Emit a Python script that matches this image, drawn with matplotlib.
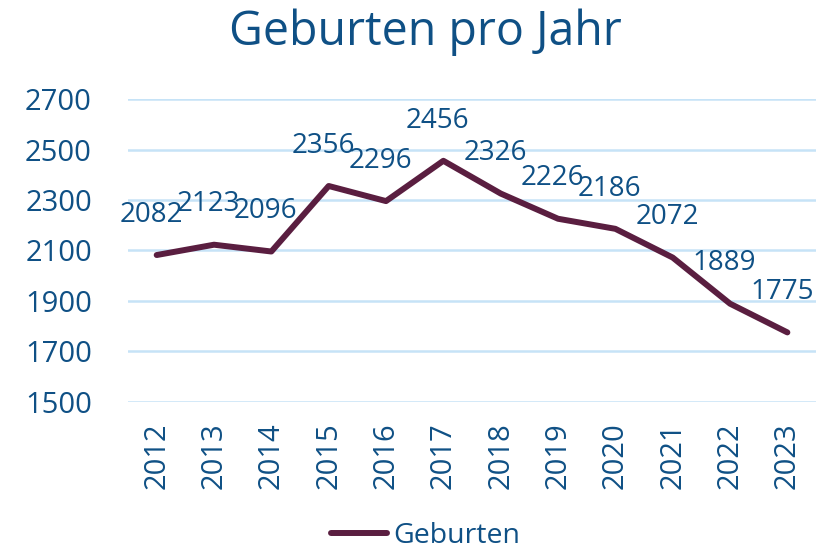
import matplotlib
matplotlib.use("Agg")
import matplotlib.pyplot as plt

# Data
years = ["2012", "2013", "2014", "2015", "2016", "2017",
         "2018", "2019", "2020", "2021", "2022", "2023"]
births = [2082, 2123, 2096, 2356, 2296, 2456, 2326, 2226, 2186, 2072, 1889, 1775]
y_ticks = [1500, 1700, 1900, 2100, 2300, 2500, 2700]

TEXT = "#0F5085"
LINE = "#5A1E40"
GRID = "#C6E3F7"

plt.rcParams["font.family"] = ["Open Sans", "DejaVu Sans"]

fig = plt.figure(figsize=(8.18, 5.55), dpi=100)
ax = fig.add_axes([0.1565, 0.2762, 0.8411, 0.5449])

x = list(range(len(years)))
ax.plot(x, births, color=LINE, linewidth=4.3, solid_capstyle="round",
        solid_joinstyle="round", label="Geburten", zorder=3)

# data labels above points
for xi, v in zip(x, births):
    ax.annotate(str(v), (xi, v), xytext=(-4, 29), textcoords="offset points",
                ha="center", va="center", fontsize=20, color=TEXT, zorder=4)

ax.set_xlim(-0.5, len(years) - 0.5)
ax.set_ylim(1500, 2700)
ax.set_yticks(y_ticks)
ax.set_xticks(x)
ax.set_xticklabels(years, rotation=90)
ax.tick_params(axis="y", length=0, pad=26, labelsize=21, labelcolor=TEXT)
ax.tick_params(axis="x", length=0, pad=15, labelsize=21, labelcolor=TEXT)

ax.grid(axis="y", color=GRID, linewidth=1.8, zorder=0)
for s in ax.spines.values():
    s.set_visible(False)

fig.text(0.52, 0.942, "Geburten pro Jahr", ha="center", va="center",
         fontsize=33.5, color=TEXT)

fig.legend(loc="lower center", bbox_to_anchor=(0.52, -0.038), frameon=False,
           fontsize=20.5, handlelength=2.0, handletextpad=0.2, labelcolor=TEXT)

fig.savefig("out.png", dpi=100)
